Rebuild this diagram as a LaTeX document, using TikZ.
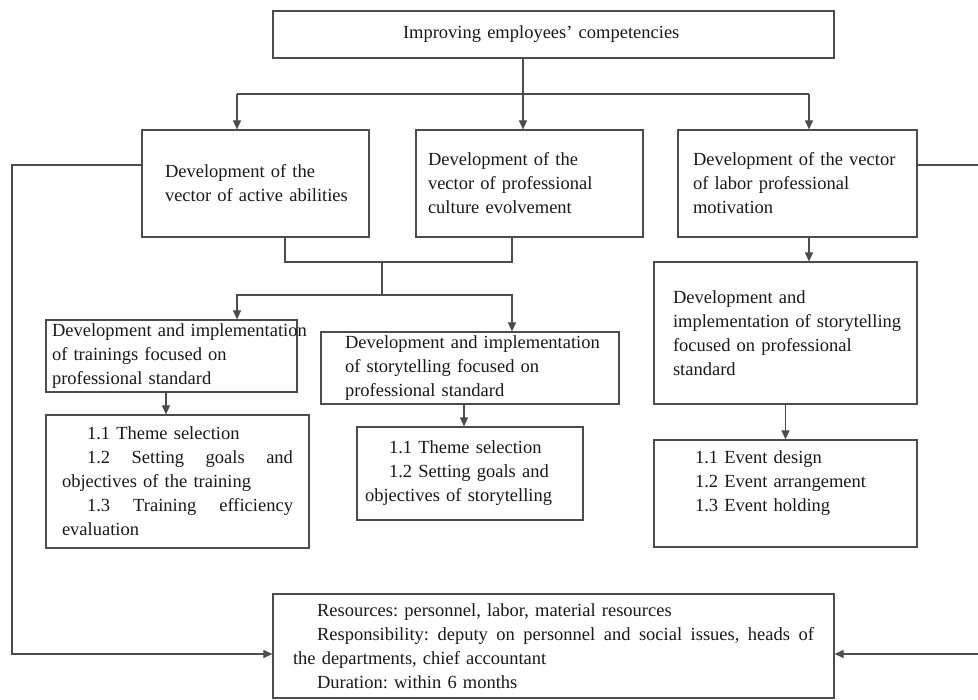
\documentclass[tikz,border=0pt]{standalone}
\usepackage{fontspec}
\setmainfont{Liberation Serif}
\usetikzlibrary{arrows.meta,calc}

\tikzset{
  box/.style={draw=black!70, line width=1.2pt, rectangle, align=left,
    inner xsep=0pt, inner ysep=0pt, text=black!90,
    font=\fontsize{18.5pt}{24pt}\selectfont\frenchspacing},
  link/.style={draw=black!70, line width=1.2pt},
  arr/.style={link, -{Triangle[length=9pt,width=8pt]}},
}

\begin{document}
\begin{tikzpicture}[x=1pt, y=-1pt]
  \useasboundingbox (0,0) rectangle (978,700);

  % top goal
  \node [box, minimum width=561pt, minimum height=47pt, text width=301pt] (top) at (553.5,34.5)
    {Improving employees’ competencies};

  % the three vectors
  \node [box, minimum width=227pt, minimum height=107pt, text width=181pt] (act) at (255.5,183.5)
    {Development of the\\\mbox{vector of active abilities}};
  \node [box, minimum width=227pt, minimum height=107pt, text width=203pt] (cult) at (529.5,183.5)
    {Development of the\\vector of professional\\culture evolvement};
  \node [box, minimum width=239pt, minimum height=107pt, text width=209pt] (mot) at (797.5,183.5)
    {\mbox{Development of the vector}\\of labor professional\\motivation};

  % measures
  \node [box, minimum width=251pt, minimum height=72pt, text width=239pt] (trn) at (171.5,356)
    {\mbox{Development and implementation}\\of trainings focused on\\professional standard};
  \node [box, minimum width=298pt, minimum height=72pt, text width=250pt] (sty) at (470,368)
    {\mbox{Development and implementation}\\of storytelling focused on\\professional standard};
  \node [box, minimum width=263pt, minimum height=142pt, text width=225pt] (mstory) at (785.5,333)
    {Development and\\\mbox{implementation of storytelling}\\focused on professional\\standard};

  % steps
  \node [box, minimum width=263pt, minimum height=133pt, text width=231pt] (trnsteps) at (177.5,481.5)
    {\hspace*{25pt}1.1 Theme selection\\
     \hspace*{25pt}1.2\hfill Setting\hfill goals\hfill and\\
     objectives of the training\\
     \hspace*{25pt}1.3\hfill Training\hfill efficiency\\
     evaluation};
  \node [box, minimum width=226pt, minimum height=93pt, text width=210pt] (stysteps) at (470,473.5)
    {\hspace*{24pt}1.1 Theme selection\\
     \hspace*{24pt}1.2 Setting goals and\\
     \mbox{objectives of storytelling}};
  \node [box, minimum width=263pt, minimum height=107pt, text width=181pt] (events) at (785.5,493.5)
    {1.1 Event design\\\mbox{1.2 Event arrangement}\\1.3 Event holding\\\mbox{}};

  % resources
  \node [box, minimum width=561pt, minimum height=104pt, text width=521pt] (res) at (553.5,646)
    {\hspace*{24pt}Resources: personnel, labor, material resources\\
     \hspace*{24pt}Responsibility:\hfill deputy\hfill on\hfill personnel\hfill and\hfill social\hfill issues,\hfill heads\hfill of\\
     the departments, chief accountant\\
     \hspace*{24pt}Duration: within 6 months};

  % connectors
  \coordinate (b1) at (237,94);
  \coordinate (b2) at (523,94);
  \coordinate (b3) at (809,94);
  \draw [link] (b1) -- (b3);
  \draw [arr] (top.south -| b2) -- (cult.north -| b2);
  \draw [arr] (b1) -- (act.north -| b1);
  \draw [arr] (b3) -- (mot.north -| b3);

  \coordinate (j1) at (285,262);
  \coordinate (j2) at (512,262);
  \coordinate (k) at (382,295);
  \draw [link] (act.south -| j1) -- (j1) -- (j2) -- (cult.south -| j2);
  \draw [link] (k |- j1) -- (k);
  \draw [arr] (k) -| (trn.north -| b1);
  \draw [arr] (k) -| (sty.north -| j2);

  \draw [arr] ([xshift=-5.5pt]trn.south) -- ([xshift=-5.5pt]trn.south |- trnsteps.north);
  \draw [arr] ([xshift=-6pt]sty.south) -- ([xshift=-6pt]sty.south |- stysteps.north);
  \draw [arr] (mot.south -| b3) -- (mstory.north -| b3);
  \draw [arr] (mstory.south) -- (events.north);

  % feedback to resources
  \coordinate (fl) at (12,165);
  \coordinate (flb) at (12,654);
  \coordinate (fr) at (990,165);
  \coordinate (frb) at (990,654);
  \draw [arr] (act.west |- fl) -- (fl) -- (flb) -- (res.west |- flb);
  \draw [arr] (mot.east |- fr) -- (fr) -- (frb) -- (res.east |- frb);
\end{tikzpicture}
\end{document}
